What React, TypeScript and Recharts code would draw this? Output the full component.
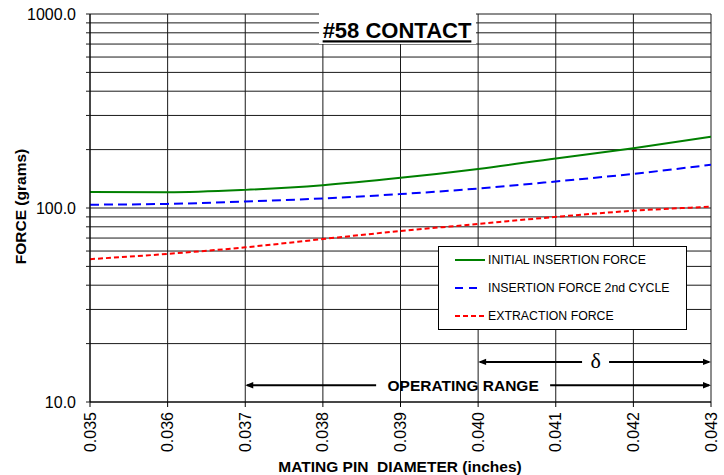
import React from 'react';
import { LineChart, Line, XAxis, YAxis, CartesianGrid, Legend, ReferenceLine } from 'recharts';

// ---- data ----
const diameters = [0.035, 0.036, 0.037, 0.038, 0.039, 0.04, 0.041, 0.042, 0.043];
const initialInsertion = [121, 120.5, 124, 131, 143, 159, 180, 203, 233];
const insertion2ndCycle = [104, 105, 108, 112, 118, 126, 137, 150, 167];
const extraction = [54.5, 58, 62.7, 69.2, 76.1, 82.7, 90, 96.8, 101.5];

const xTicks = [0.035, 0.036, 0.037, 0.038, 0.039, 0.04, 0.041, 0.042, 0.043];
const xTickLabels = ['0.035', '0.036', '0.037', '0.038', '0.039', '0.040', '0.041', '0.042', '0.043'];
const yTicks = [10, 20, 30, 40, 50, 60, 70, 80, 90, 100, 200, 300, 400, 500, 600, 700, 800, 900, 1000];
const yLabelValues = [10, 100, 1000];
const yLabelTexts = ['10.0', '100.0', '1000.0'];

const seriesKeys = ['initial', 'second', 'extraction'];
const seriesNames = ['INITIAL INSERTION FORCE', 'INSERTION FORCE 2nd CYCLE', 'EXTRACTION FORCE'];
const seriesColors = ['#008000', '#0000FF', '#FF0000'];
const seriesDash = ['', '9 5', '5 3'];

const operatingRange = [0.037, 0.043];
const operatingRangeLevel = 12.2;
const deltaRange = [0.04, 0.043];
const deltaLevel = 16.1;

const title = '#58 CONTACT';
const xAxisTitle = 'MATING PIN  DIAMETER (inches)';
const yAxisTitle = 'FORCE (grams)';

const data = diameters.map((d, i) => ({
  d,
  initial: initialInsertion[i],
  second: insertion2ndCycle[i],
  extraction: extraction[i],
}));

const FONT = '"Liberation Sans", Arial, sans-serif';
const W = 724;
const H = 475;

const YTick = (props: any) => {
  const { x, y, payload } = props;
  const idx = yLabelValues.indexOf(payload.value);
  if (idx < 0) return null;
  return (
    <text x={x} y={y} dy="0.35em" textAnchor="end" fontSize={16} fontFamily={FONT} fill="#000">
      {yLabelTexts[idx]}
    </text>
  );
};

const XTick = (props: any) => {
  const { x, y, payload } = props;
  const idx = xTicks.indexOf(payload.value);
  const label = idx >= 0 ? xTickLabels[idx] : String(payload.value);
  return (
    <text
      x={x}
      y={y}
      dy="0.35em"
      textAnchor="end"
      fontSize={16}
      fontFamily={FONT}
      fill="#000"
      transform={`rotate(-90, ${x}, ${y})`}
    >
      {label}
    </text>
  );
};

const arrowHead = (x: number, y: number, dir: number, key: string) => {
  const len = 8;
  const hw = 3.2;
  return (
    <polygon
      key={key}
      points={`${x},${y} ${x - dir * len},${y - hw} ${x - dir * len},${y + hw}`}
      fill="#000"
    />
  );
};

const makeArrowShape = (label: string, fontSize: number, fontFamily: string, bold: boolean, centerShift: number, halfGap: number, baselineShift: number) =>
  (props: any) => {
    const x1 = Number(props.x1);
    const x2 = Number(props.x2);
    const y = Number(props.y1);
    const cx = (x1 + x2) / 2 + centerShift;
    return (
      <g>
        <line x1={x1 + 2} y1={y} x2={cx - halfGap} y2={y} stroke="#000" strokeWidth={2} />
        <line x1={cx + halfGap} y1={y} x2={x2 - 2} y2={y} stroke="#000" strokeWidth={2} />
        {arrowHead(x1, y, -1, 'l')}
        {arrowHead(x2, y, 1, 'r')}
        <text
          x={cx}
          y={y + baselineShift}
          textAnchor="middle"
          fontSize={fontSize}
          fontFamily={fontFamily}
          fontWeight={bold ? 'bold' : 'normal'}
          fill="#000"
        >
          {label}
        </text>
      </g>
    );
  };

const OperatingShape = makeArrowShape('OPERATING RANGE', 15.5, FONT, true, -15, 87, 5.6);
const DeltaShape = makeArrowShape('δ', 22, '"Liberation Serif", "Times New Roman", serif', false, 1, 13.5, 6.5);

const legendDash = [undefined, '8 6', '5 3'];
const legendEnd = [47, 42, 47];

const LegendContent = () => (
  <svg width={249} height={84} style={{ display: 'block' }}>
    <rect x={0.5} y={0.5} width={248} height={83} fill="#fff" stroke="#000" strokeWidth={1} />
    {seriesNames.map((name, i) => {
      const y = 14 + i * 28;
      return (
        <g key={name}>
          <line
            x1={17}
            y1={y}
            x2={legendEnd[i]}
            y2={y}
            stroke={seriesColors[i]}
            strokeWidth={2}
            strokeDasharray={legendDash[i]}
          />
          <text x={50} y={y} dy="0.35em" fontSize={12.3} fontFamily={FONT} fill="#000">
            {name}
          </text>
        </g>
      );
    })}
  </svg>
);

export default function App() {
  return (
    <div style={{ position: 'absolute', left: 0, top: 0, width: W, height: H, background: '#fff' }}>
      <LineChart
        width={W}
        height={H}
        data={data}
        margin={{ top: 14, right: 13, bottom: 0, left: 0 }}
        style={{ fontFamily: FONT }}
      >
        <CartesianGrid stroke="#1a1a1a" strokeWidth={1} horizontal vertical />
        <XAxis
          dataKey="d"
          type="number"
          domain={[0.035, 0.043]}
          ticks={xTicks}
          height={73}
          tickSize={5}
          tickMargin={5}
          tick={<XTick />}
          axisLine={{ stroke: '#000', strokeWidth: 1 }}
          tickLine={{ stroke: '#000' }}
          interval={0}
          allowDataOverflow
        />
        <YAxis
          type="number"
          scale="log"
          domain={[10, 1000]}
          ticks={yTicks}
          width={90}
          tickSize={4}
          tickMargin={10}
          tick={<YTick />}
          axisLine={{ stroke: '#000', strokeWidth: 1 }}
          tickLine={{ stroke: '#1a1a1a' }}
          interval={0}
          allowDataOverflow
        />
        {seriesKeys.map((k, i) => (
          <Line
            key={k}
            dataKey={k}
            name={seriesNames[i]}
            type="monotone"
            stroke={seriesColors[i]}
            strokeWidth={2}
            strokeDasharray={seriesDash[i] || undefined}
            dot={false}
            activeDot={false}
            isAnimationActive={false}
          />
        ))}
        <ReferenceLine
          segment={[
            { x: operatingRange[0], y: operatingRangeLevel },
            { x: operatingRange[1], y: operatingRangeLevel },
          ]}
          shape={OperatingShape}
          ifOverflow="visible"
        />
        <ReferenceLine
          segment={[
            { x: deltaRange[0], y: deltaLevel },
            { x: deltaRange[1], y: deltaLevel },
          ]}
          shape={DeltaShape}
          ifOverflow="visible"
        />
        <Legend
          layout="vertical"
          align="center"
          verticalAlign="middle"
          content={<LegendContent />}
          wrapperStyle={{ left: 438, top: 246, width: 249, height: 84, right: 'auto', bottom: 'auto' }}
        />
      </LineChart>
      <svg
        width={W}
        height={H}
        style={{ position: 'absolute', left: 0, top: 0, pointerEvents: 'none' }}
      >
        <rect x={319} y={13} width={157} height={31} fill="#fff" />
        <text
          x={397}
          y={38.3}
          textAnchor="middle"
          fontSize={22}
          fontWeight="bold"
          fontFamily={FONT}
          textDecoration="underline"
          fill="#000"
        >
          {title}
        </text>
        <text
          x={400}
          y={472}
          textAnchor="middle"
          fontSize={15.5}
          fontWeight="bold"
          fontFamily={FONT}
          fill="#000"
          style={{ whiteSpace: 'pre' }}
        >
          {xAxisTitle}
        </text>
        <text
          x={0}
          y={0}
          transform="translate(21, 206.5) rotate(-90)"
          textAnchor="middle"
          dy="0.35em"
          fontSize={15.5}
          fontWeight="bold"
          fontFamily={FONT}
          fill="#000"
        >
          {yAxisTitle}
        </text>
      </svg>
    </div>
  );
}
